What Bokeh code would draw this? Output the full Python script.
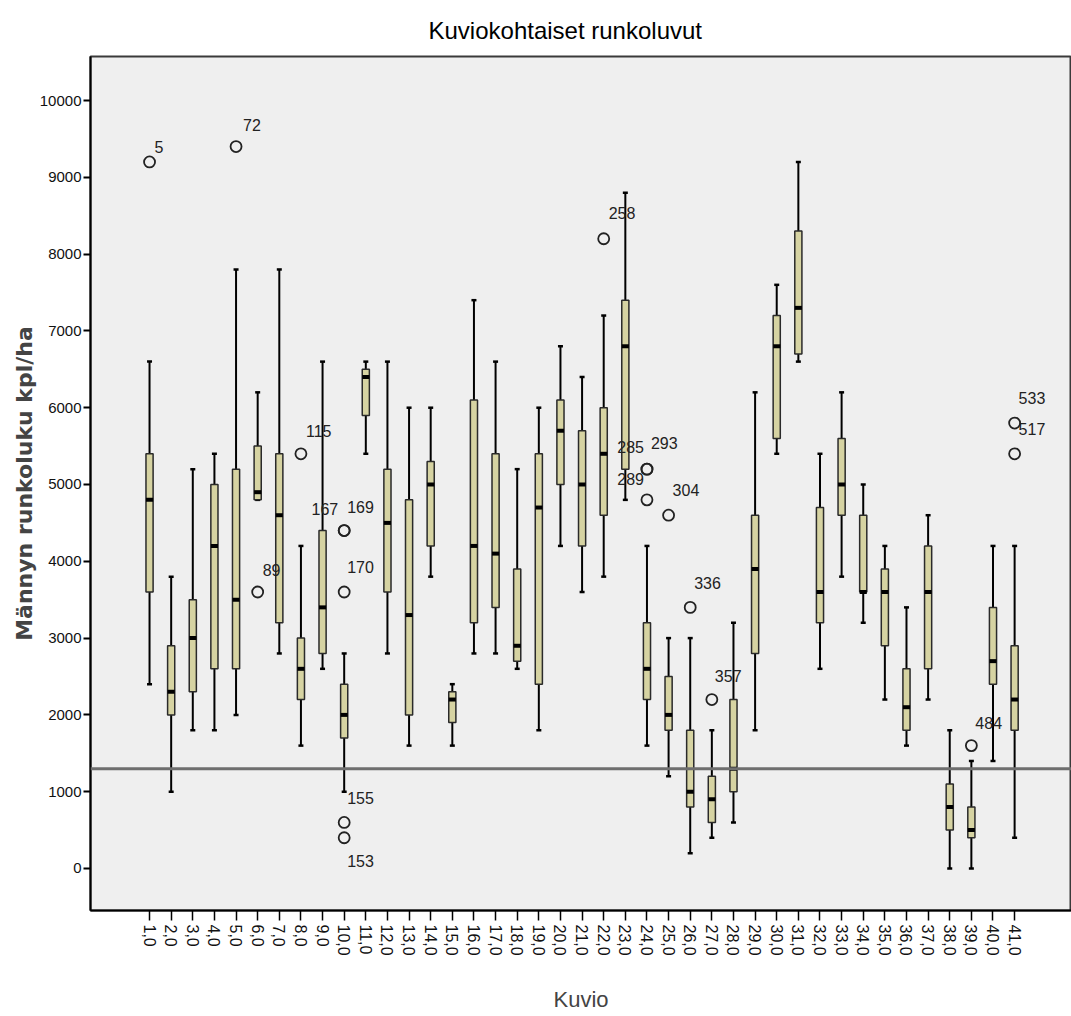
import math
from bokeh.plotting import figure
from bokeh.models import ColumnDataSource, FixedTicker, Span, Range1d
from bokeh.core.properties import value
from bokeh.embed import file_html
from bokeh.resources import INLINE

# ---- data ----
kuvio = list(range(1, 42))
whisker_low = [2400, 1000, 1800, 1800, 2000, 4800, 2800, 1600, 2600, 1000,
               5400, 2800, 1600, 3800, 1600, 2800, 2800, 2600, 1800, 4200,
               3600, 3800, 4800, 1600, 1200, 200, 400, 600, 1800, 5400,
               6600, 2600, 3800, 3200, 2200, 1600, 2200, 0, 0, 1400, 400]
q1 = [3600, 2000, 2300, 2600, 2600, 4800, 3200, 2200, 2800, 1700,
      5900, 3600, 2000, 4200, 1900, 3200, 3400, 2700, 2400, 5000,
      4200, 4600, 5200, 2200, 1800, 800, 600, 1000, 2800, 5600,
      6700, 3200, 4600, 3600, 2900, 1800, 2600, 500, 400, 2400, 1800]
median = [4800, 2300, 3000, 4200, 3500, 4900, 4600, 2600, 3400, 2000,
          6400, 4500, 3300, 5000, 2200, 4200, 4100, 2900, 4700, 5700,
          5000, 5400, 6800, 2600, 2000, 1000, 900, 1300, 3900, 6800,
          7300, 3600, 5000, 3600, 3600, 2100, 3600, 800, 500, 2700, 2200]
q3 = [5400, 2900, 3500, 5000, 5200, 5500, 5400, 3000, 4400, 2400,
      6500, 5200, 4800, 5300, 2300, 6100, 5400, 3900, 5400, 6100,
      5700, 6000, 7400, 3200, 2500, 1800, 1200, 2200, 4600, 7200,
      8300, 4700, 5600, 4600, 3900, 2600, 4200, 1100, 800, 3400, 2900]
whisker_high = [6600, 3800, 5200, 5400, 7800, 6200, 7800, 4200, 6600, 2800,
                6600, 6600, 6000, 6000, 2400, 7400, 6600, 5200, 6000, 6800,
                6400, 7200, 8800, 4200, 3000, 3000, 1800, 3200, 6200, 7600,
                9200, 5400, 6200, 5000, 4200, 3400, 4600, 1800, 1400, 4200, 4200]

outlier_kuvio = [1, 5, 6, 8, 10, 10, 10, 10, 10, 22, 24, 24, 24, 25, 26, 27, 39, 41, 41]
outlier_value = [9200, 9400, 3600, 5400, 4400, 4400, 3600, 600, 400, 8200,
                 5200, 4800, 5200, 4600, 3400, 2200, 1600, 5800, 5400]
outlier_label = ["5", "72", "89", "115", "167", "169", "170", "155", "153", "258",
                 "285", "289", "293", "304", "336", "357", "484", "533", "517"]

tick_labels = {k: f"{k},0" for k in kuvio}
y_ticks = list(range(0, 10001, 1000))
reference_value = 1300

# ---- label placement (style only) ----
label_dx = [5, 7, 5, 5, -6, 3, 3, 3, 3, 5, -3, -3, 4, 4, 4, 3, 4, 4, 4]
label_dy = [-15, -22, -22, -23, -22, -24, -25, -24, 23, -26, -22, -21, -26, -25, -24, -24, -23, -25, -25]
label_align = ["left", "left", "left", "left", "right", "left", "left", "left", "left", "left",
               "right", "right", "left", "left", "left", "left", "left", "left", "left"]

NARROW = "Liberation Sans Narrow, Arial Narrow, Liberation Sans"

p = figure(width=1071, height=1016, output_backend="svg", toolbar_location=None,
           x_range=Range1d(-1.73, 43.63), y_range=Range1d(-547, 10573),
           min_border_left=90, min_border_right=0, min_border_top=56, min_border_bottom=106)

p.background_fill_color = "#efefef"
p.border_fill_color = "white"
p.outline_line_color = "#3a3a3a"
p.outline_line_width = 2
p.xgrid.visible = False
p.ygrid.visible = False

p.title.text = "Kuviokohtaiset runkoluvut"
p.title.text_font = NARROW
p.title.text_font_size = "24px"
p.title.text_font_style = "normal"
p.title.align = "left"
p.title.offset = 338
p.title.standoff = 25
p.title.text_color = "black"

# axes
p.yaxis.ticker = FixedTicker(ticks=y_ticks)
p.yaxis.minor_tick_line_color = None
p.yaxis.major_tick_in = 0
p.yaxis.major_tick_out = 7
p.yaxis.major_tick_line_width = 2
p.yaxis.axis_line_width = 2
p.yaxis.axis_line_color = "black"
p.yaxis.major_label_text_font = NARROW
p.yaxis.major_label_text_font_size = "15px"
p.yaxis.major_label_text_color = "#111111"
p.yaxis.major_label_standoff = 2
p.yaxis.axis_label = "Männyn runkoluku kpl/ha"
p.yaxis.axis_label_text_font = "DejaVu Sans"
p.yaxis.axis_label_text_font_style = "bold"
p.yaxis.axis_label_text_font_size = "22px"
p.yaxis.axis_label_standoff = 0

p.xaxis.ticker = FixedTicker(ticks=kuvio)
p.xaxis.major_label_overrides = tick_labels
p.xaxis.major_label_orientation = -math.pi / 2
p.xaxis.minor_tick_line_color = None
p.xaxis.major_tick_in = 0
p.xaxis.major_tick_out = 10
p.xaxis.major_tick_line_width = 1.5
p.xaxis.axis_line_width = 2
p.xaxis.axis_line_color = "black"
p.xaxis.major_label_text_font = NARROW
p.xaxis.major_label_text_font_size = "16px"
p.xaxis.major_label_text_color = "#111111"
p.xaxis.major_label_standoff = 4
p.xaxis.axis_label = "Kuvio"
p.xaxis.axis_label_text_font = NARROW
p.xaxis.axis_label_text_font_style = "normal"
p.xaxis.axis_label_text_font_size = "22px"
p.xaxis.axis_label_standoff = 28

# reference line
p.add_layout(Span(location=reference_value, dimension="width",
                  line_color="#6e6e6e", line_width=3))

src = ColumnDataSource(dict(k=kuvio, lo=whisker_low, q1=q1, med=median, q3=q3, hi=whisker_high))

# whiskers
p.segment(x0="k", y0="q3", x1="k", y1="hi", source=src, line_color="black", line_width=2)
p.segment(x0="k", y0="lo", x1="k", y1="q1", source=src, line_color="black", line_width=2)
p.scatter(x="k", y="hi", source=src, marker="dash", size=5, line_color="black", line_width=2.5)
p.scatter(x="k", y="lo", source=src, marker="dash", size=5, line_color="black", line_width=2.5)

# boxes
p.vbar(x="k", width=0.33, bottom="q1", top="q3", source=src,
       fill_color="#d6d3a2", line_color="#2a2a2a", line_width=1.5)
# medians
p.rect(x="k", y="med", width=0.33, height=4, height_units="screen", source=src,
       fill_color="black", line_color=None)

# outliers
osrc = ColumnDataSource(dict(k=outlier_kuvio, v=outlier_value, t=outlier_label,
                             dx=label_dx, dy=label_dy, al=label_align))
p.scatter(x="k", y="v", source=osrc, marker="circle", size=11, fill_color=None,
          line_color="#222222", line_width=1.8)
p.text(x="k", y="v", text="t", source=osrc, x_offset="dx", y_offset="dy",
       text_align="al", text_baseline="alphabetic",
       text_font=value(NARROW), text_font_size="16px", text_color="#222222")

open("out.html", "w").write(file_html(p, INLINE))
